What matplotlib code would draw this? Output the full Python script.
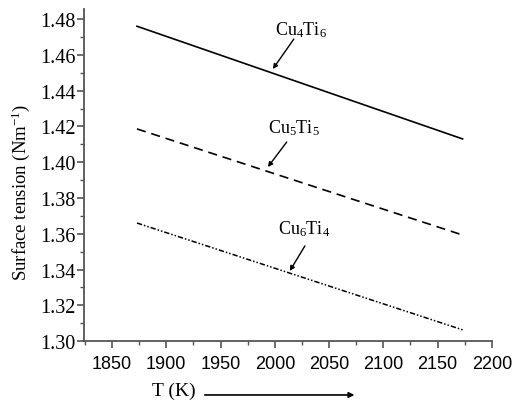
import matplotlib
matplotlib.use("Agg")
import matplotlib.pyplot as plt
from matplotlib.ticker import MultipleLocator

plt.rcParams["mathtext.fontset"] = "custom"
plt.rcParams["mathtext.rm"] = "Liberation Serif"
plt.rcParams["mathtext.it"] = "Liberation Serif:italic"
plt.rcParams["mathtext.bf"] = "Liberation Serif:bold"

# data
temps = [1873, 2173]
cu4ti6 = [1.476, 1.413]
cu5ti5 = [1.4186, 1.3593]
cu6ti4 = [1.366, 1.3063]

labels = [r"$\mathrm{Cu_4Ti_6}$", r"$\mathrm{Cu_5Ti_5}$", r"$\mathrm{Cu_6Ti_4}$"]
label_pos = [(2000, 1.4715), (1993.6, 1.4165), (2002.8, 1.3605)]
arrow_tail = [(2017.5, 1.4688), (2011, 1.4113), (2027.7, 1.3532)]
arrow_tip = [(1998.2, 1.4521), (1993.6, 1.3973), (2013.8, 1.3392)]

serif = "Liberation Serif"
sans = "Liberation Sans"

fig = plt.figure(figsize=(5.14, 4.02), dpi=100)
ax = fig.add_axes([0.163, 0.149, 0.794, 0.826])

ax.plot(temps, cu4ti6, color="black", lw=1.2, ls="-")
ax.plot(temps, cu5ti5, color="black", lw=1.2, ls=(0, (5.5, 3.5)))
ax.plot(temps, cu6ti4, color="black", lw=1.1, ls=(0, (3.5, 1.3, 1, 1.3, 1, 1.3)))

for lab, pos, tail, tip in zip(labels, label_pos, arrow_tail, arrow_tip):
    ax.text(pos[0], pos[1], lab, fontsize=13, ha="left", va="baseline")
    ax.annotate("", xy=tip, xytext=tail,
                arrowprops=dict(arrowstyle="-|>", color="black", lw=1.0,
                                mutation_scale=7, shrinkA=0, shrinkB=0))

ax.set_xlim(1824, 2200)
ax.set_ylim(1.30, 1.4856)
ax.xaxis.set_major_locator(MultipleLocator(50))
ax.xaxis.set_minor_locator(MultipleLocator(25))
ax.yaxis.set_major_locator(MultipleLocator(0.02))
ax.yaxis.set_minor_locator(MultipleLocator(0.01))
ax.yaxis.set_major_formatter(plt.FuncFormatter(lambda v, p: f"{v:.2f}"))

ax.spines["top"].set_visible(False)
ax.spines["right"].set_visible(False)
for s in ("left", "bottom"):
    ax.spines[s].set_linewidth(1.3)
    ax.spines[s].set_color("#555555")
ax.tick_params(which="major", direction="out", length=5, width=1.2, color="#555555")
ax.tick_params(which="minor", direction="out", length=3, width=1.0, color="#555555")
ax.tick_params(axis="x", labelsize=13, pad=5)
ax.tick_params(axis="y", labelsize=14.5, pad=1)
for t in ax.get_xticklabels():
    t.set_family(sans)
for t in ax.get_yticklabels():
    t.set_family(serif)

ax.set_ylabel(r"Surface tension (Nm$^{\mathrm{-1}}$)", family=serif, fontsize=13.5)
ax.yaxis.set_label_coords(-0.127, 0.45)
fig.text(0.296, 0.027, "T (K)", family=serif, fontsize=14, ha="left", va="center")
fig.add_artist(matplotlib.patches.FancyArrowPatch(
    (0.393, 0.015), (0.695, 0.015), transform=fig.transFigure,
    arrowstyle="-|>", mutation_scale=8, color="black", lw=1.2))

fig.savefig("out.png", dpi=100)
